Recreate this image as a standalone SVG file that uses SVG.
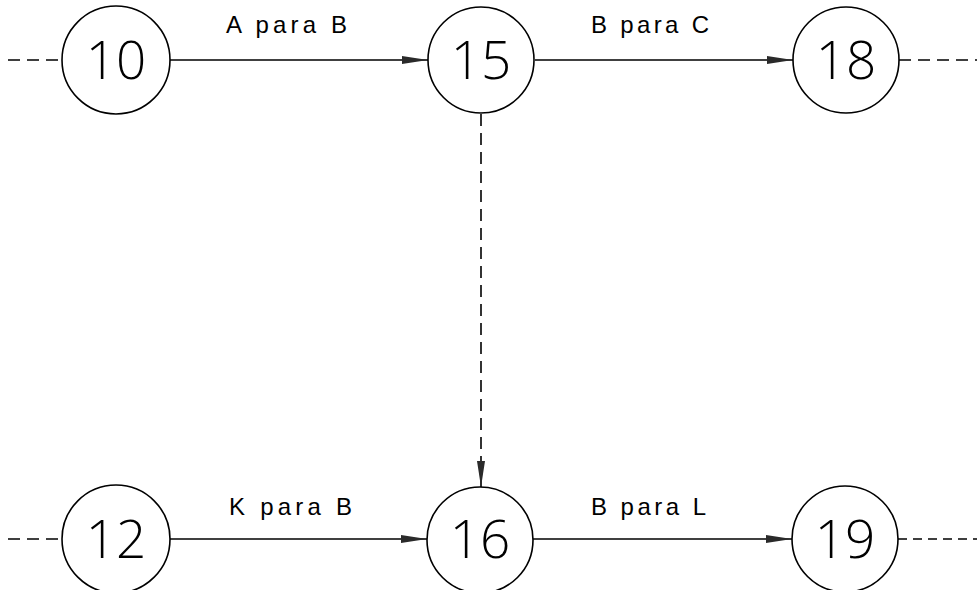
<svg xmlns="http://www.w3.org/2000/svg" width="977" height="590" viewBox="0 0 977 590">
<style>
.node circle{fill:#fff;stroke:#000;stroke-width:1.6}
.num{font-family:"Open Sans","Liberation Sans",sans-serif;font-weight:300;font-size:53px;text-anchor:middle;fill:#000}
.lbl{font-family:"Liberation Sans",Arial,sans-serif;font-size:24px;fill:#000}
.solid{stroke:#000;stroke-width:1.4;fill:none}
.dash{stroke:#000;stroke-width:1.6;fill:none;stroke-dasharray:12 7}
.dash2{stroke:#000;stroke-width:1.4;fill:none;stroke-dasharray:9 6}
</style>
<defs>
<marker id="arr" viewBox="0 0 26 10" refX="26" refY="5" markerWidth="26" markerHeight="10" markerUnits="userSpaceOnUse" orient="auto">
<path d="M0,1 L26,5 L0,9 Z" fill="#2a2a2a"/>
</marker>
</defs>
<rect width="977" height="590" fill="#fff"/>
<g id="connectors">
<line class="dash" x1="8" y1="60" x2="62" y2="60"/>
<line class="dash" x1="899" y1="60" x2="977" y2="60"/>
<line class="dash" x1="8" y1="539" x2="62" y2="539"/>
<line class="dash2" x1="898" y1="539" x2="977" y2="539"/>
<line class="solid" x1="170" y1="60" x2="428" y2="60" marker-end="url(#arr)"/>
<line class="solid" x1="535" y1="60" x2="793" y2="60" marker-end="url(#arr)"/>
<line class="solid" x1="170" y1="539" x2="427" y2="539" marker-end="url(#arr)"/>
<line class="solid" x1="533" y1="539" x2="792" y2="539" marker-end="url(#arr)"/>
<line class="dash" x1="481" y1="114" x2="481" y2="487" marker-end="url(#arr)"/>
<text class="lbl" x="226" y="33" textLength="121" lengthAdjust="spacing">A para B</text>
<text class="lbl" x="591" y="33" textLength="118" lengthAdjust="spacing">B para C</text>
<text class="lbl" x="229" y="515" textLength="123" lengthAdjust="spacing">K para B</text>
<text class="lbl" x="591" y="515" textLength="115" lengthAdjust="spacing">B para L</text>
</g>
<g id="n10" class="node"><circle cx="116" cy="60" r="54"/><text class="num" x="116" y="79">10</text></g>
<g id="n15" class="node"><circle cx="481" cy="60" r="53"/><text class="num" x="481" y="79">15</text></g>
<g id="n18" class="node"><circle cx="846" cy="60" r="53"/><text class="num" x="846" y="79">18</text></g>
<g id="n12" class="node"><circle cx="116" cy="539" r="54"/><text class="num" x="116" y="558">12</text></g>
<g id="n16" class="node"><circle cx="480" cy="540" r="53"/><text class="num" x="480" y="558">16</text></g>
<g id="n19" class="node"><circle cx="845" cy="539" r="53"/><text class="num" x="845" y="558">19</text></g>
</svg>
